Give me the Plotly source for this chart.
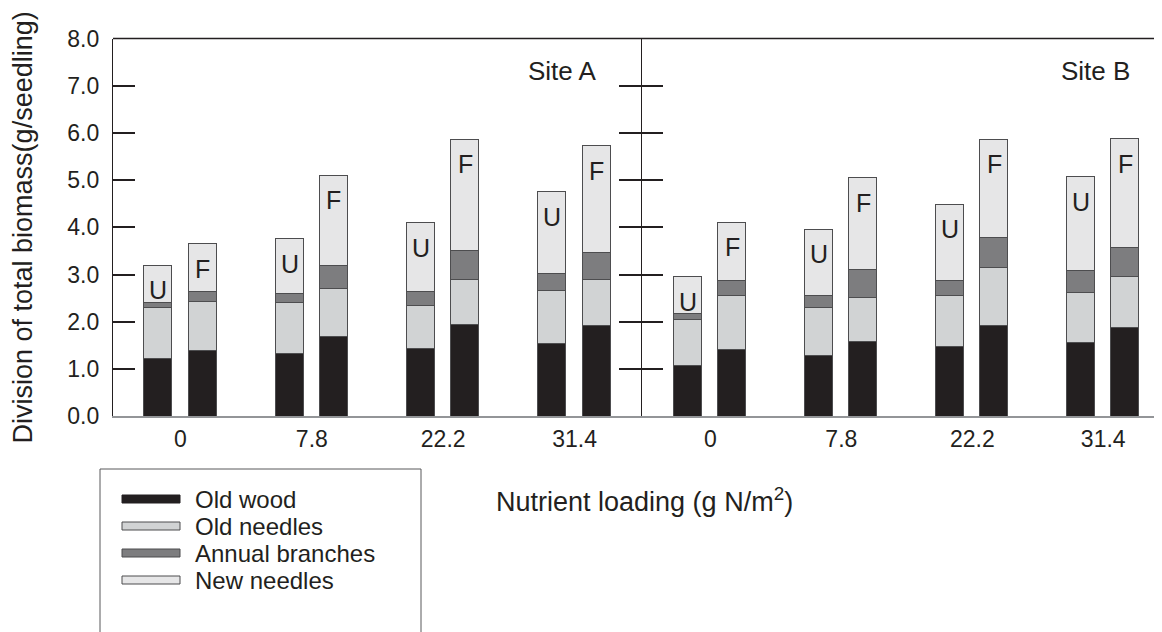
import plotly.graph_objects as go

W, H = 1162, 632

# ---------------- data ----------------
nitrogen_levels = ["0", "7.8", "22.2", "31.4"]
treatments = ["U", "F"]
components = ["Old wood", "Old needles", "Annual branches", "New needles"]
component_colors = ["#231f20", "#d1d3d4", "#7d7d7f", "#e6e6e7"]
site_names = ["Site A", "Site B"]

# Site A, unfertilised (U)
a_u_old_wood = [1.23, 1.34, 1.44, 1.55]
a_u_old_needles = [1.07, 1.08, 0.91, 1.12]
a_u_annual_branches = [0.12, 0.18, 0.30, 0.35]
a_u_new_needles = [0.78, 1.16, 1.45, 1.74]
# Site A, fertilised (F)
a_f_old_wood = [1.39, 1.70, 1.94, 1.93]
a_f_old_needles = [1.04, 1.00, 0.96, 0.96]
a_f_annual_branches = [0.22, 0.49, 0.61, 0.57]
a_f_new_needles = [1.00, 1.91, 2.36, 2.27]

# Site B, unfertilised (U)
b_u_old_wood = [1.07, 1.29, 1.47, 1.57]
b_u_old_needles = [0.98, 1.02, 1.08, 1.06]
b_u_annual_branches = [0.13, 0.25, 0.32, 0.45]
b_u_new_needles = [0.78, 1.40, 1.62, 1.99]
# Site B, fertilised (F)
b_f_old_wood = [1.42, 1.58, 1.92, 1.89]
b_f_old_needles = [1.14, 0.94, 1.23, 1.07]
b_f_annual_branches = [0.32, 0.58, 0.63, 0.62]
b_f_new_needles = [1.23, 1.95, 2.09, 2.30]

y_ticks = [0, 1, 2, 3, 4, 5, 6, 7, 8]

# ---------------- style / layout constants ----------------
FONT = "Liberation Sans, Arial, Helvetica, sans-serif"
DARK = "#231f20"
GRAY_AXIS = "#939598"
EDGE = "#4d4d4f"
PAIR_OFFSET = 0.168
BAR_WIDTH = 0.213

site_data = [
    {"U": [a_u_old_wood, a_u_old_needles, a_u_annual_branches, a_u_new_needles],
     "F": [a_f_old_wood, a_f_old_needles, a_f_annual_branches, a_f_new_needles]},
    {"U": [b_u_old_wood, b_u_old_needles, b_u_annual_branches, b_u_new_needles],
     "F": [b_f_old_wood, b_f_old_needles, b_f_annual_branches, b_f_new_needles]},
]

fig = go.Figure()
annotations = []
idx = list(range(len(nitrogen_levels)))

for s, sd in enumerate(site_data):
    xa = "x" if s == 0 else "x2"
    ya = "y" if s == 0 else "y2"
    for t, tr in enumerate(treatments):
        sign = -1 if t == 0 else 1
        xs = [i + sign * PAIR_OFFSET for i in idx]
        for c, comp in enumerate(components):
            fig.add_trace(go.Bar(
                x=xs, y=sd[tr][c], width=BAR_WIDTH,
                marker=dict(color=component_colors[c], line=dict(color=EDGE, width=1)),
                name=comp, showlegend=False, xaxis=xa, yaxis=ya,
                hovertemplate=f"{site_names[s]} {tr} %{{x}}<br>{comp}: %{{y}}<extra></extra>",
            ))
        totals = [sum(sd[tr][c][i] for c in range(len(components))) for i in idx]
        for i in idx:
            annotations.append(dict(
                x=xs[i], y=totals[i], xref=xa, yref=ya, text=tr, showarrow=False,
                yanchor="middle", yshift=-25, font=dict(family=FONT, size=25, color=DARK),
            ))

# site labels
annotations.append(dict(x=0.92, y=0.914, xref="x domain", yref="y domain", text=site_names[0],
                        showarrow=False, xanchor="right", yanchor="middle",
                        font=dict(family=FONT, size=26, color=DARK)))
annotations.append(dict(x=0.928, y=0.914, xref="x2 domain", yref="y2 domain", text=site_names[1],
                        showarrow=False, xanchor="right", yanchor="middle",
                        font=dict(family=FONT, size=26, color=DARK)))

# x title
annotations.append(dict(x=636 / W, y=1 - 492 / H, xref="paper", yref="paper",
                        text="Nutrient loading (g N/m<sup>2</sup>)",
                        showarrow=False, xanchor="center", yanchor="middle",
                        font=dict(family=FONT, size=27, color=DARK)))

# manual legend (wide swatches)
shapes = []
shapes.append(dict(type="rect", xref="paper", yref="paper",
                   x0=92 / W, x1=413 / W, y0=-0.1, y1=1 - 461 / H,
                   line=dict(color="#58595b", width=1), fillcolor="rgba(0,0,0,0)"))
legend_y = [491, 518, 545, 572]
for c, comp in enumerate(components):
    yc = legend_y[c]
    shapes.append(dict(type="rect", xref="paper", yref="paper",
                       x0=114 / W, x1=172 / W, y0=1 - (yc + 4) / H, y1=1 - (yc - 4) / H,
                       line=dict(color=DARK if c == 0 else EDGE, width=1),
                       fillcolor=component_colors[c]))
    annotations.append(dict(x=185 / W, y=1 - yc / H, xref="paper", yref="paper", text=comp,
                            showarrow=False, xanchor="left", yanchor="middle",
                            font=dict(family=FONT, size=24, color=DARK)))

# top border line
y_top = 1 - 30.5 / H
y_bot = 1 - 408.3 / H
shapes.append(dict(type="line", xref="paper", yref="paper", x0=105 / W, x1=1.0,
                   y0=y_top, y1=y_top, line=dict(color=DARK, width=1.3)))

xcommon = dict(tickvals=idx, ticktext=nitrogen_levels, ticks="", showgrid=False, zeroline=False,
               showline=True, linecolor=GRAY_AXIS, linewidth=2,
               tickfont=dict(family=FONT, size=23, color=DARK), ticklabelstandoff=1)
ycommon = dict(range=[0, 8], tickvals=y_ticks, tickformat=".1f", ticks="inside", ticklen=22,
               tickwidth=1.5, tickcolor=DARK, showgrid=False, zeroline=False,
               linecolor=DARK, linewidth=1.2,
               domain=[y_bot, y_top], tickfont=dict(family=FONT, size=23, color=DARK))

fig.update_layout(
    width=W, height=H,
    margin=dict(l=0, r=0, t=0, b=0),
    paper_bgcolor="white", plot_bgcolor="white",
    template="none",
    barmode="stack",
    bargap=0,
    showlegend=False,
    font=dict(family=FONT, color=DARK),
    xaxis=dict(domain=[105 / W, 633 / W], range=[-0.514, 3.506], anchor="y", **xcommon),
    xaxis2=dict(domain=[633 / W, 1.0], range=[-0.53, 3.51], anchor="y2", **xcommon),
    yaxis=dict(anchor="x", mirror="ticks", showline=True, ticklabelstandoff=8,
               title=dict(text="Division of total biomass(g/seedling)", standoff=26,
                          font=dict(family=FONT, size=27, color=DARK)), **ycommon),
    yaxis2=dict(anchor="x2", showticklabels=False, showline=False, **ycommon),
    yaxis3=dict(anchor="x2", overlaying="y2", side="right", showticklabels=False,
                showline=False, **ycommon),
    annotations=annotations,
    shapes=shapes,
)

fig.write_html("out.html")
